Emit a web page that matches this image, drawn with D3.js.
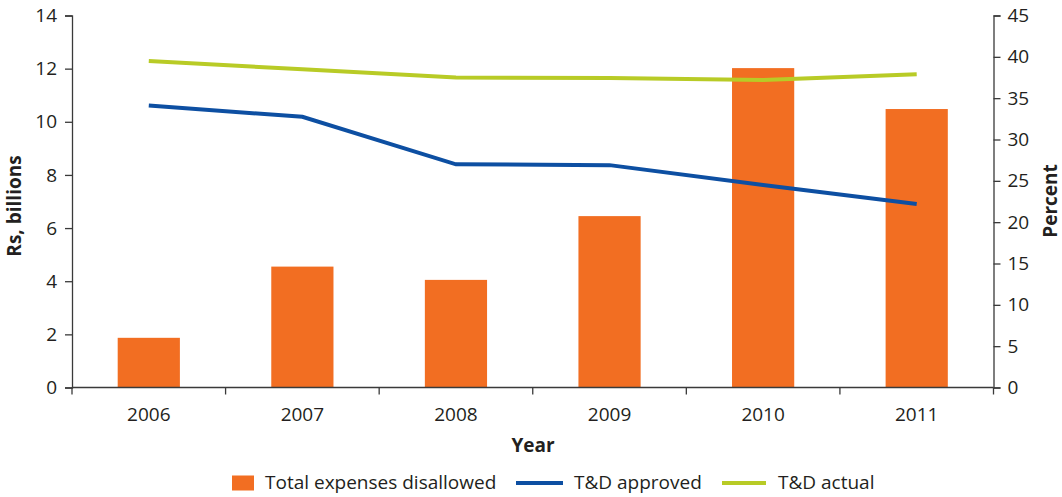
<!DOCTYPE html>
<html>
<head>
<meta charset="utf-8">
<script src="https://cdn.jsdelivr.net/npm/d3@7"></script>
<style>
  html, body { margin: 0; padding: 0; background: #fff; }
  svg text { font-family: "Open Sans", "Noto Sans", sans-serif; fill: #231f20; }
</style>
</head>
<body>
<svg id="chart" width="1062" height="497"></svg>
<script>
// Data
const years = ["2006", "2007", "2008", "2009", "2010", "2011"];
const expensesDisallowed = [1.87, 4.55, 4.05, 6.45, 12.02, 10.48]; // Rs, billions
const tdApproved = [34.1, 32.75, 27.0, 26.9, 24.5, 22.2];           // percent
const tdActual = [39.5, 38.5, 37.5, 37.45, 37.2, 37.9];             // percent
const leftTicks = [0, 2, 4, 6, 8, 10, 12, 14];
const rightTicks = [0, 5, 10, 15, 20, 25, 30, 35, 40, 45];

const colors = { bar: "#f26e22", approved: "#0d4fa2", actual: "#b8cb26", axis: "#3a3a3a" };
const FS = "19px";

const svg = d3.select("#chart");
const m = { left: 72, right: 993.5, top: 15.5, bottom: 387.5 };

const x = d3.scaleBand().domain(years).range([m.left, m.right]).paddingInner(0).paddingOuter(0);
const barW = x.bandwidth() * 0.405;
const yL = d3.scaleLinear().domain([0, 14]).range([m.bottom, m.top]);
const yR = d3.scaleLinear().domain([0, 45]).range([m.bottom, m.top]);

// Bars
svg.append("g").selectAll("rect").data(years).join("rect")
  .attr("x", d => x(d) + x.bandwidth() / 2 - barW / 2)
  .attr("y", (d, i) => yL(expensesDisallowed[i]))
  .attr("width", barW)
  .attr("height", (d, i) => yL(0) - yL(expensesDisallowed[i]))
  .attr("fill", colors.bar);

// Lines
const line = d3.line().x(d => x(d[0]) + x.bandwidth() / 2).y(d => yR(d[1]));
svg.append("path").datum(years.map((y, i) => [y, tdActual[i]]))
  .attr("d", line).attr("fill", "none").attr("stroke", colors.actual).attr("stroke-width", 4);
svg.append("path").datum(years.map((y, i) => [y, tdApproved[i]]))
  .attr("d", line).attr("fill", "none").attr("stroke", colors.approved).attr("stroke-width", 4);

// Axes
const styleAxis = g => {
  g.selectAll(".domain").attr("stroke", colors.axis).attr("stroke-width", 1.3);
  g.selectAll(".tick line").attr("stroke", colors.axis).attr("stroke-width", 1.3);
  g.selectAll(".tick text").style("font-size", FS).attr("fill", "#231f20");
};

svg.append("g").attr("transform", `translate(${m.left},0)`)
  .call(d3.axisLeft(yL).tickValues(leftTicks).tickSize(7).tickSizeOuter(7).tickPadding(8))
  .call(styleAxis);

svg.append("g").attr("transform", `translate(${m.right},0)`)
  .call(d3.axisRight(yR).tickValues(rightTicks).tickSize(7).tickSizeOuter(7).tickPadding(7))
  .call(styleAxis);

// Category axis: boundaries ticked, labels centred in each band
const xb = svg.append("g").attr("transform", `translate(0,${m.bottom})`);
xb.append("line").attr("x1", m.left).attr("x2", m.right).attr("stroke", colors.axis).attr("stroke-width", 1.3);
const bounds = years.map(d => x(d)).concat([m.right]);
xb.selectAll("line.b").data(bounds).join("line").attr("class", "b")
  .attr("x1", d => d).attr("x2", d => d).attr("y1", 0).attr("y2", 7)
  .attr("stroke", colors.axis).attr("stroke-width", 1.3);
xb.selectAll("text").data(years).join("text")
  .attr("x", d => x(d) + x.bandwidth() / 2).attr("y", 33.5)
  .attr("text-anchor", "middle").style("font-size", FS).text(d => d);

// Axis titles
svg.append("text").attr("transform", "translate(21,206) rotate(-90)")
  .attr("text-anchor", "middle").style("font-size", FS).style("font-weight", "bold").text("Rs, billions");
svg.append("text").attr("transform", "translate(1057,201) rotate(-90)")
  .attr("text-anchor", "middle").style("font-size", FS).style("font-weight", "bold").text("Percent");
svg.append("text").attr("x", 533).attr("y", 452)
  .attr("text-anchor", "middle").style("font-size", FS).style("font-weight", "bold").text("Year");

// Legend
const leg = svg.append("g").attr("transform", "translate(0,483)");
leg.append("rect").attr("x", 232).attr("y", -7.5).attr("width", 22).attr("height", 15).attr("fill", colors.bar);
leg.append("text").attr("x", 265).attr("y", 5.5).style("font-size", FS).text("Total expenses disallowed");
leg.append("line").attr("x1", 516).attr("x2", 563).attr("stroke", colors.approved).attr("stroke-width", 4);
leg.append("text").attr("x", 574).attr("y", 5.5).style("font-size", FS).text("T&D approved");
leg.append("line").attr("x1", 722).attr("x2", 766).attr("stroke", colors.actual).attr("stroke-width", 4);
leg.append("text").attr("x", 778).attr("y", 5.5).style("font-size", FS).text("T&D actual");
</script>
</body>
</html>
